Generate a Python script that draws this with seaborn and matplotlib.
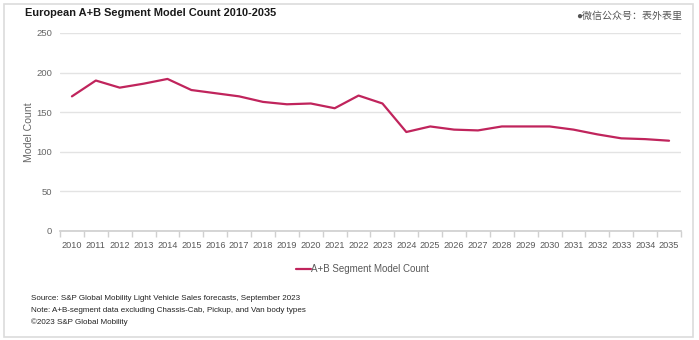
import matplotlib
matplotlib.use("Agg")
import matplotlib.pyplot as plt
import seaborn as sns
import pandas as pd
import numpy as np
from matplotlib.patches import Rectangle

years = list(range(2010, 2036))
model_count = [170, 190, 181, 186, 192, 178, 174, 170, 163, 160, 161, 155, 171, 161,
               125, 132, 128, 127, 132, 132, 132, 128, 122, 117, 116, 114]
series_name = "A+B Segment Model Count"
title = "European A+B Segment Model Count 2010-2035"
ylabel = "Model Count"
yticks = [0, 50, 100, 150, 200, 250]
notes = ["Source: S&P Global Mobility Light Vehicle Sales forecasts, September 2023",
         "Note: A+B-segment data excluding Chassis-Cab, Pickup, and Van body types",
         "\u00a92023 S&P Global Mobility"]
watermark = "\u5fae\u4fe1\u516c\u4f17\u53f7\uff1a\u8868\u5916\u8868\u91cc"

sns.set_theme(style="white")
plt.rcParams['font.family'] = ['Liberation Sans', 'Noto Sans CJK SC', 'DejaVu Sans']

df = pd.DataFrame({"Year": years, "Count": model_count, "Series": series_name})

fig = plt.figure(figsize=(6.99, 3.40), dpi=100)
W, H = 699, 340
ax = fig.add_axes([60 / W, 1 - 231 / H, (681 - 60) / W, (231 - 33) / H])

color = "#c0245c"
sns.lineplot(data=df, x="Year", y="Count", hue="Series", palette=[color],
             linewidth=1.6, ax=ax, legend=False)

ax.set_xlim(years[0] - 0.5, years[-1] + 0.5)
ax.set_ylim(0, 250)
ax.set_xticks(years)
ax.set_xticklabels([str(y) for y in years], fontsize=6.6, color="#595959")
ax.set_yticks(yticks)
ax.set_yticklabels([str(v) for v in yticks], fontsize=6.8, color="#666666")
ax.set_xticks(np.arange(years[0] - 0.5, years[-1] + 1.0, 1.0), minor=True)
ax.tick_params(axis="x", which="major", length=0, pad=7)
ax.tick_params(axis="x", which="minor", length=4, color="#d0d0d0", bottom=True)
ax.tick_params(axis="y", length=0, pad=5.5)
ax.yaxis.grid(True, color="#e3e3e3", linewidth=1)
for s in ["top", "right", "left"]:
    ax.spines[s].set_visible(False)
ax.spines["bottom"].set_color("#d0d0d0")
ax.set_xlabel("")
ax.set_ylabel(ylabel, fontsize=7.6, color="#666666")
ax.yaxis.set_label_coords((34 - 60) / (681 - 60), 0.5)

fig.patches.append(Rectangle((4 / W, 3 / H), (W - 10) / W, (H - 7) / H,
                             transform=fig.transFigure, fill=False,
                             edgecolor="#dcdcdc", linewidth=1.2))

fig.text(25 / W, 1 - 13 / H, title, fontsize=7.9, fontweight="bold",
         color="#1a1a1a", va="center", ha="left")
fig.text(682 / W, 1 - 16 / H, "\u25cf" + watermark, fontsize=7.2, color="#555555",
         va="center", ha="right")

# legend
lx, ly = 296, 269
fig.add_artist(plt.Line2D([lx / W, (lx + 15) / W], [1 - ly / H, 1 - ly / H],
                          color=color, linewidth=1.6))
fig.text((lx + 15) / W, 1 - ly / H, series_name, fontsize=7, color="#595959",
         va="center", ha="left")

for i, t in enumerate(notes):
    fig.text(31 / W, 1 - (298 + 12 * i) / H, t, fontsize=5.8, color="#222222",
             va="center", ha="left")

fig.savefig("out.png", dpi=100, facecolor="white")
